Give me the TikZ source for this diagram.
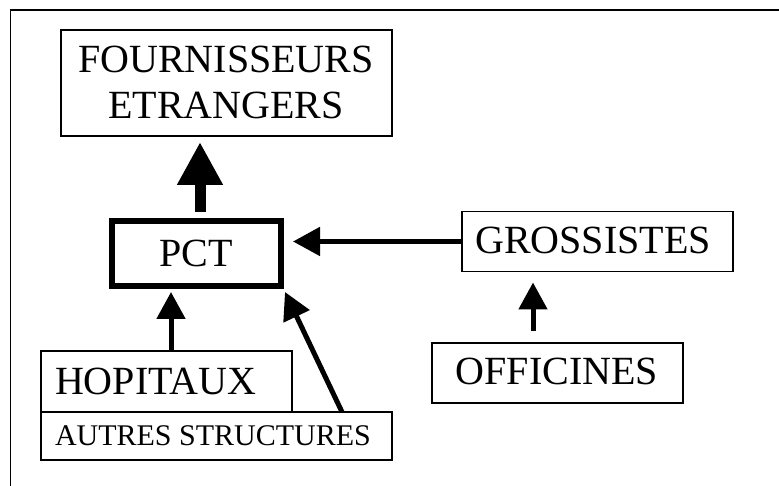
\documentclass[tikz,border=0pt]{standalone}
\usepackage{fontspec}
\setmainfont{Liberation Serif}
\usetikzlibrary{arrows.meta,calc}
\tikzset{
  box/.style={draw, line width=1.3pt, rectangle, inner sep=0pt, outer sep=0pt},
  thickbox/.style={draw, line width=5.3pt, rectangle, inner sep=0pt, outer sep=0pt},
  lbl/.style={inner sep=0pt, outer sep=0pt, font=\fontsize{40}{46}\selectfont},
  smalllbl/.style={inner sep=0pt, outer sep=0pt, font=\fontsize{30}{34}\selectfont},
  arr/.style={line width=5pt, -{Triangle[length=27pt,width=28pt]}},
  bigarr/.style={line width=11pt, -{Triangle[length=43pt,width=43pt]}},
  frameline/.style={line width=1.5pt}
}
\begin{document}
\begin{tikzpicture}[x=1pt,y=-1pt]
\useasboundingbox (0,0) rectangle (779,486);
\draw[frameline] (10.5,486) -- (10.5,10) -- (779,10);

% boxes
\node[box, minimum width=331pt, minimum height=106pt] (fou) at (226.5,83) {};
\node[thickbox, minimum width=169pt, minimum height=65pt] (pct) at (196.5,253.5) {};
\node[box, minimum width=271pt, minimum height=60pt] (gro) at (597.5,241.5) {};
\node[box, minimum width=251pt, minimum height=60pt] (off) at (557.5,373) {};
\node[box, minimum width=251pt, minimum height=61pt] (hop) at (166.5,381.5) {};
\node[box, minimum width=351pt, minimum height=48pt] (aut) at (216.5,436) {};

% texts
\node[lbl, anchor=base] (foutxt1) at (226,73) {FOURNISSEURS};
\node[lbl, anchor=base] (foutxt2) at (226,119) {ETRANGERS};
\node[lbl, anchor=base] (pcttxt) at (196,267) {PCT};
\node[lbl, anchor=base] (grotxt) at (593,254) {GROSSISTES};
\node[lbl, anchor=base] (offtxt) at (557,384) {OFFICINES};
\node[lbl, anchor=base west] (hoptxt) at (55,394) {HOPITAUX};
\node[smalllbl, anchor=base west] (auttxt) at (55,445) {AUTRES STRUCTURES};

% connectors
\draw[bigarr] ($(pct.north)+(3.5,-9)$) -- ($(fou.south)+(-26.5,6)$);
\draw[arr] (gro.west) -- ($(pct.east)+(12,-12)$);
\draw[arr] ($(off.north)+(-24.5,-12)$) -- ($(gro.south)+(-64.5,11)$);
\draw[arr] ($(hop.north)+(4.5,-1)$) -- ($(pct.south)+(-25.5,6)$);
\draw[arr] ($(aut.north)+(125.5,0)$) -- ($(pct.south east)+(4,6)$);
\end{tikzpicture}
\end{document}
